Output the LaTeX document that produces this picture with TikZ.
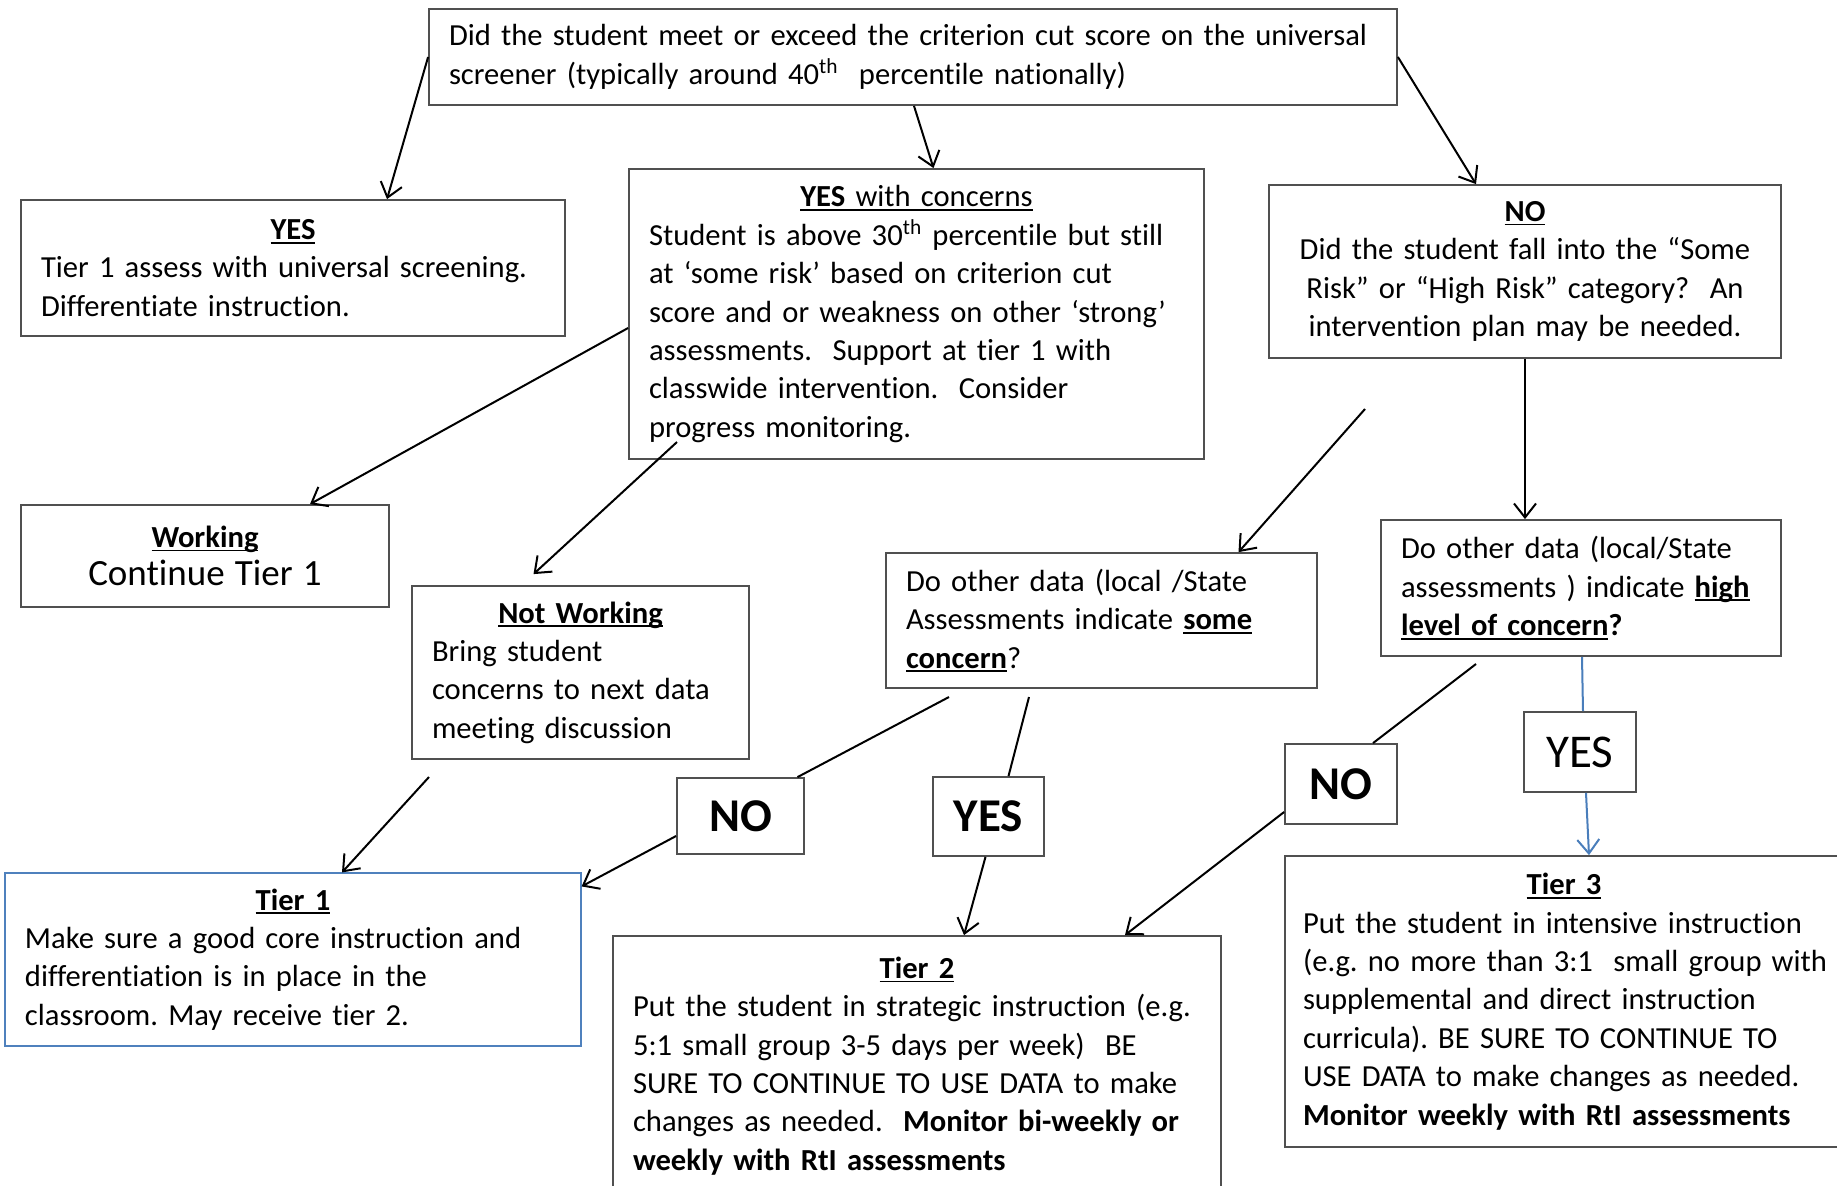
\documentclass[tikz,border=0pt]{standalone}
\usepackage{fontspec}
\setmainfont{Carlito}[Ligatures = NoCommon]
\usepackage{xcolor}
\usetikzlibrary{calc, arrows.meta}

\definecolor{boxgray}{RGB}{80,80,80}
\definecolor{tierblue}{RGB}{79,129,189}
\definecolor{arrowblue}{RGB}{74,126,187}

\newsavebox{\ulbox}
\newcommand{\uln}[1]{\leavevmode\sbox{\ulbox}{#1}\rlap{\rule[-2pt]{\wd\ulbox}{0.9pt}}\usebox{\ulbox}}
\newcommand{\hdr}[1]{{\centering\uln{\textbf{#1}}\par}}

\begin{document}
\frenchspacing
\begin{tikzpicture}[x = 0.5pt, y = -0.5pt,
		box/.style = {draw = boxgray, line width = 0.9pt, inner sep = 0pt, align = left, font = \fontsize{15.3}{19.2}\selectfont},
		tag/.style = {draw = boxgray, line width = 0.9pt, inner sep = 0pt, font = \fontsize{23.5}{26}\selectfont},
		flow/.style = {line width = 1pt, -{Straight Barb[length = 7pt, width = 11pt]}}]
			\useasboundingbox (0,0) rectangle (1837,1185);

			% question boxes
			\begin{scope}
				\node [box, minimum width = 484pt, minimum height = 48pt, text width = 464pt] (top) at (913,57) {\mbox{Did the student meet or exceed the criterion cut score on the universal}\\ screener (typically around 40\textsuperscript{th}\ \ percentile nationally)};
				\node [box, minimum width = 272pt, minimum height = 68pt, text width = 252pt] (yes) at (293,268) {\hdr{YES}Tier 1 assess with universal screening.\\ Differentiate instruction.};
				\node [box, minimum width = 287.5pt, minimum height = 145pt, text width = 267.5pt] (conc) at (916.5,314) {{\centering\uln{\textbf{YES} with concerns}\par}Student is above 30\textsuperscript{th} percentile but still\\ at ‘some risk’ based on criterion cut\\ score and or weakness on other ‘strong’\\ assessments.\ \ Support at tier 1 with\\ classwide intervention.\ \ Consider\\ progress monitoring.};
				\node [box, align = center, minimum width = 256pt, minimum height = 86.5pt, text width = 236pt] (no) at (1525,271.5) {\uln{\textbf{NO}}\\ Did the student fall into the “Some\\ Risk” or “High Risk” category?\ \ An\\ intervention plan may be needed.};
				\node [box, align = center, minimum width = 184pt, minimum height = 51pt, text width = 164pt] (working) at (205,556) {\uln{\textbf{Working}}\\ {\fontsize{18.5}{22}\selectfont Continue Tier 1}};
				\node [box, minimum width = 168.5pt, minimum height = 86.5pt, text width = 148.5pt] (notw) at (580.5,672.5) {\hdr{Not Working}Bring student\\ concerns to next data\\ meeting discussion};
				\node [box, minimum width = 215.5pt, minimum height = 67.5pt, text width = 195.5pt] (some) at (1101.5,620.5) {Do other data (local /State\\ Assessments indicate \uln{\textbf{some}}\\ \uln{\textbf{concern}}?};
				\node [box, minimum width = 200pt, minimum height = 68pt, text width = 180pt] (high) at (1581,588) {Do other data (local/State\\ \mbox{assessments ) indicate \uln{\textbf{high}}}\\ \uln{\textbf{level of concern}}\textbf{?}};
			\end{scope}

			% answer tags
			\begin{scope}
				\node [tag, minimum width = 63.5pt, minimum height = 38pt] (noA) at (740.5,816) {\textbf{NO}};
				\node [tag, minimum width = 55.5pt, minimum height = 39.5pt] (yesA) at (988.5,816.5) {\textbf{YES}};
				\node [tag, minimum width = 56pt, minimum height = 40pt] (noB) at (1341,784) {\textbf{NO}};
				\node [tag, minimum width = 56pt, minimum height = 40pt] (yesB) at (1580,752) {YES};
			\end{scope}

			% tiers
			\begin{scope}
				\node [box, draw = tierblue, line width = 0.6pt, minimum width = 288pt, minimum height = 86.5pt, text width = 268pt] (tier1) at (293,959.5) {\hdr{Tier 1}Make sure a good core instruction and\\ differentiation is in place in the\\ classroom. May receive tier 2.};
				\node [box, minimum width = 304pt, minimum height = 130pt, text width = 284pt] (tier2) at (917,1066) {\hdr{Tier 2}\mbox{Put the student in strategic instruction (e.g.}\\ 5:1 small group 3-5 days per week)\ \ BE\\ SURE TO CONTINUE TO USE DATA to make\\ changes as needed.\ \ \textbf{Monitor bi-weekly or}\\ \textbf{weekly with RtI assessments}};
				\node [box, minimum width = 279pt, minimum height = 145.5pt, text width = 261pt] (tier3) at (1564,1001.5) {\hdr{Tier 3}Put the student in intensive instruction\\ \mbox{(e.g. no more than 3:1\ \ small group with}\\ supplemental and direct instruction\\ curricula). BE SURE TO CONTINUE TO\\ USE DATA to make changes as needed.\\ \textbf{Monitor weekly with RtI assessments}};
			\end{scope}

			\coordinate (nwStart) at (677,442);
			\coordinate (someStart) at (1365,409);
			\coordinate (someNo) at (949,697);
			\coordinate (someYes) at (1029,697);
			\coordinate (nwOut) at (429,777);
			\coordinate (highNo) at (1476,664);

			\begin{scope}[flow]
				\draw (top.west) -- ($(yes.north)+(94,0)$);
				\draw ($(top.south)+(1,0)$) -- ($(conc.north)+(17,0)$);
				\draw (top.east) -- ($(no.north)+(-49,0)$);
				\draw ($(conc.west)+(0,14)$) -- ($(working.north)+(105,0)$);
				\draw (nwStart) -- ($(notw.north)+(-47,-11)$);
				\draw (someStart) -- ($(some.north)+(137,0)$);
				\draw (no.south) -- (no.south |- high.north);
				\draw ($(noA.west)+(0,20)$) -- ($(tier1.north east)+(0,14)$);
				\draw (nwOut) -- ($(tier1.north)+(49,0)$);
				\draw ($(yesA.south)+(-3,0)$) -- ($(tier2.north)+(47,0)$);
				\draw ($(noB.west)+(0,28)$) -- ($(tier2.north)+(208,0)$);
				\draw [arrowblue] ($(yesB.south)+(6,0)$) -- ($(tier3.north)+(25,0)$);
			\end{scope}

			\begin{scope}[line width = 1pt]
				\draw (someNo) -- ($(noA.north)+(57,0)$);
				\draw (someYes) -- ($(yesA.north)+(20,0)$);
				\draw (highNo) -- ($(noB.north)+(32,0)$);
				\draw [arrowblue] ($(high.south)+(1,0)$) -- ($(yesB.north)+(3,0)$);
			\end{scope}
		\end{tikzpicture}
\end{document}
